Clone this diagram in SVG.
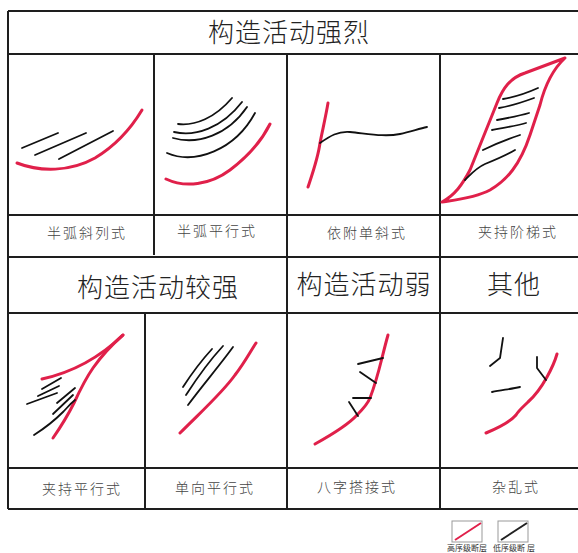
<svg xmlns="http://www.w3.org/2000/svg" width="578" height="553" viewBox="0 0 578 553">
  <style>
    .grid { stroke: #1e1e1e; stroke-width: 2; fill: none; }
    .hi { stroke: #e0204a; stroke-width: 3; fill: none; stroke-linecap: round; stroke-linejoin: round; }
    .lo { stroke: #111; stroke-width: 1.8; fill: none; stroke-linecap: round; stroke-linejoin: round; }
    .head { font-family: "Noto Sans CJK SC", "DejaVu Sans", sans-serif; font-size: 26px; font-weight: 300; fill: #222; text-anchor: middle; letter-spacing: 1px; }
    .lab { font-family: "Noto Sans CJK SC", "DejaVu Sans", sans-serif; font-size: 14px; font-weight: 300; fill: #444; text-anchor: middle; letter-spacing: 2px; }
    .leg { font-family: "Noto Sans CJK SC", "DejaVu Sans", sans-serif; font-size: 8px; fill: #333; text-anchor: middle; }
    .legbox { fill: #fff; stroke: #999; stroke-width: 1; }
  </style>
  <rect width="578" height="553" fill="#fff"/>

  <!-- table frame -->
  <g id="table">
    <path class="grid" d="M8,11 H578 M8,54 H578 M8,215 H578 M8,257 H578 M8,313 H578 M8,468 H578 M8,509 H578"/>
    <path class="grid" d="M8,11 V509 M154,54 V255 M287,54 V509 M440,54 V509 M145,313 V509"/>
  </g>

  <!-- section headers -->
  <g id="header-strong"><text class="head" x="289" y="42">构造活动强烈</text></g>
  <g id="header-fairly-strong"><text class="head" x="158" y="297">构造活动较强</text></g>
  <g id="header-weak"><text class="head" x="364" y="294">构造活动弱</text></g>
  <g id="header-other"><text class="head" x="514" y="294">其他</text></g>

  <!-- 半弧斜列式 -->
  <g id="cell-semi-arc-oblique">
    <path class="hi" d="M17,163 C40,172 70,172 95,158 C115,146 130,130 142,110"/>
    <path class="lo" d="M22,148 L58,133 M35,155 L86,133 M59,159 L113,131"/>
    <text class="lab" x="87" y="238">半弧斜列式</text>
  </g>

  <!-- 半弧平行式 -->
  <g id="cell-semi-arc-parallel">
    <path class="hi" d="M166,179 C185,188 210,185 230,170 C250,155 262,140 270,124"/>
    <path class="lo" d="M178,124 C195,126 215,118 232,98 M174,132 C195,137 222,128 242,102 M173,138 C198,145 228,135 247,107 M167,153 C195,165 235,150 255,113"/>
    <text class="lab" x="217" y="236">半弧平行式</text>
  </g>

  <!-- 依附单斜式 -->
  <g id="cell-attached-monocline">
    <path class="hi" d="M308,187 C313,172 318,158 320,143 C323,128 326,115 328,103"/>
    <path class="lo" d="M320,143 C330,136 338,131 350,132 C370,134 385,137 400,134 C410,132 418,129 427,127"/>
    <text class="lab" x="367" y="238">依附单斜式</text>
  </g>

  <!-- 夹持阶梯式 -->
  <g id="cell-clamped-ladder">
    <path class="hi" d="M442,202 C455,195 462,185 470,170 L497,103 C503,88 510,78 525,73 L565,58 C552,70 545,85 540,105 L530,135 C520,165 507,180 490,190 C475,198 455,200 442,202 Z"/>
    <path class="lo" d="M503,99 C515,97 527,93 538,88 M499,108 C512,106 523,102 534,98 M497,120 C508,118 519,116 529,113 M492,130 C503,128 515,126 526,123 M483,150 C495,144 508,139 520,135 M465,180 C471,174 476,168 485,164 C495,160 505,156 515,150"/>
    <text class="lab" x="518" y="237">夹持阶梯式</text>
  </g>

  <!-- 夹持平行式 -->
  <g id="cell-clamped-parallel">
    <path class="hi" d="M42,379 C65,374 95,362 123,335"/>
    <path class="hi" d="M53,438 C62,425 68,415 74,403 C80,390 86,378 93,368 C100,358 108,348 123,335"/>
    <path class="lo" d="M42,389 L61,378 M38,396 L59,386 M27,404 L57,393 M57,403 L75,388 M53,414 L73,395 M34,435 C45,428 55,420 63,412 C67,408 70,404 75,400"/>
    <text class="lab" x="82" y="494">夹持平行式</text>
  </g>

  <!-- 单向平行式 -->
  <g id="cell-unidirectional-parallel">
    <path class="hi" d="M180,433 C205,408 223,392 235,375 C245,362 250,352 256,343"/>
    <path class="lo" d="M183,387 C192,373 201,361 212,349 M186,395 C197,378 210,360 223,346 M188,405 C202,386 220,365 233,347"/>
    <text class="lab" x="215" y="493">单向平行式</text>
  </g>

  <!-- 八字搭接式 -->
  <g id="cell-splay-overlap">
    <path class="hi" d="M315,444 C333,434 348,425 357,415 C363,409 368,403 370,398 C375,385 379,370 382,358 C384,350 386,342 388,335"/>
    <path class="lo" d="M358,364 L383,358 M360,372 L376,383 M353,398 L371,398 M349,402 L358,416"/>
    <text class="lab" x="357" y="492">八字搭接式</text>
  </g>

  <!-- 杂乱式 -->
  <g id="cell-disordered">
    <path class="hi" d="M486,433 C498,428 510,422 516,415 C519,410 524,406 528,402 C536,395 542,386 547,377 C552,368 555,361 557,354"/>
    <path class="lo" d="M503,338 L500,358 L490,366 M537,357 L537,368 L546,380 M492,392 C502,390 511,389 520,387"/>
    <text class="lab" x="516" y="492">杂乱式</text>
  </g>

  <!-- legend -->
  <g id="legend-high-order">
    <rect class="legbox" x="452" y="521" width="30" height="21"/>
    <path d="M455,540 L481,523" stroke="#e0204a" stroke-width="2"/>
    <text class="leg" x="467" y="551">高序级断层</text>
  </g>
  <g id="legend-low-order">
    <rect class="legbox" x="498" y="521" width="30" height="21"/>
    <path d="M501,540 L527,523" stroke="#222" stroke-width="2"/>
    <text class="leg" x="514" y="551">低序级断 层</text>
  </g>
</svg>
